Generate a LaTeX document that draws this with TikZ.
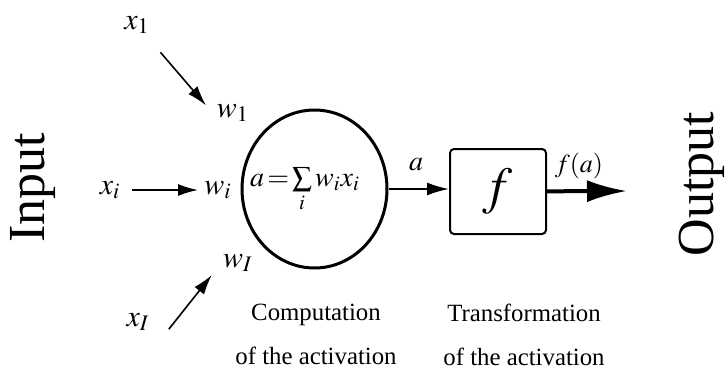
\documentclass[tikz,border=0pt]{standalone}
\usepackage{mathptmx}
\usepackage{fontspec}
\setmainfont{Liberation Serif}
\usetikzlibrary{positioning,shapes.geometric,arrows.meta}

\begin{document}
\begin{tikzpicture}[x=0.5pt,y=-0.5pt,
  lbl/.style={inner sep=2pt,font=\fontsize{15}{18}\selectfont},
  side/.style={rotate=90,anchor=base,font=\fontsize{26}{30}\selectfont},
  caption/.style={align=center,anchor=north,inner sep=0pt,font=\fontsize{12.4}{22}\selectfont},
  inarrow/.style={line width=0.8pt,-{Latex[length=10pt,width=6pt]}},
  actarrow/.style={line width=1pt,-{Latex[length=11pt,width=6.5pt]}},
  outarrow/.style={line width=2pt,-{Latex[length=20pt,width=11pt]}}]
  \useasboundingbox (0,0) rectangle (725,371);

  % side titles
  \node[side] (input) at (45,188) {Input};
  \node[side] (output) at (713,184) {Output};

  % the neuron
  \node[draw,ellipse,line width=1.5pt,minimum width=72.5pt,minimum height=79pt,inner sep=0pt] (neuron) at (314.5,189) {};
  \node[lbl,font=\fontsize{14}{17}\selectfont] (sum) at (305,190) {$a\!=\!\sum\limits_i w_i x_i$};
  \node[draw,line width=1pt,rounded corners=2pt,minimum width=48pt,minimum height=42.5pt,
    font=\fontsize{26}{30}\selectfont] (transf) at (498,191.5) {$f$};

  % inputs and weights
  \node[lbl] (x1) at (137,25) {$x_1$};
  \node[lbl] (w1) at (233,113) {$w_1$};
  \node[lbl] (xi) at (110,190) {$x_i$};
  \node[lbl] (wi) at (218,190) {$w_i$};
  \node[lbl] (xI) at (138,322) {$x_I$};
  \node[lbl] (wI) at (238,263) {$w_I$};
  \draw[inarrow,shorten <=18pt,shorten >=5pt] (x1.center) -- (w1.west);
  \draw[inarrow,shorten <=11pt,shorten >=1pt] (xi.center) -- (wi.west);
  \draw[inarrow] ([xshift=7.5pt,yshift=3pt]xI.south east) -- ([xshift=-3.5pt,yshift=-6pt]wI.west);

  % activation and output
  \draw[actarrow] (neuron.east) -- (neuron.east -| transf.west);
  \node[lbl,font=\fontsize{14}{17}\selectfont] (alab) at (416,165) {$a$};
  \coordinate (out) at (627,191);
  \draw[outarrow] (transf) -- (out);
  \node[lbl,font=\fontsize{13}{16}\selectfont] (flab) at (579,166) {$f(a)$};

  % captions
  \node[caption] (comp) at (316,304) {Computation\\of the activation};
  \node[caption] (trans) at (524,304) {Transformation\\of the activation};
\end{tikzpicture}
\end{document}
